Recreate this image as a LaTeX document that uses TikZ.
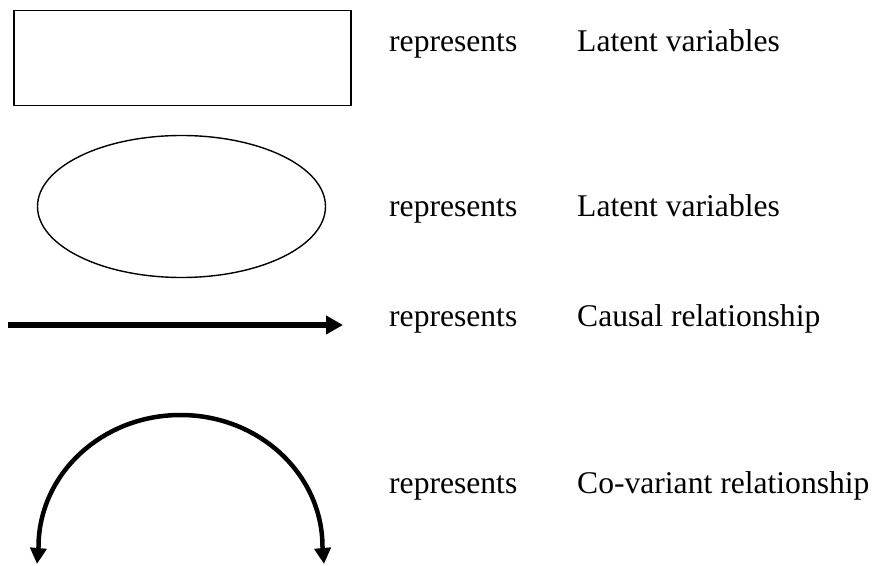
\documentclass[tikz,border=0pt]{standalone}
\usepackage{fontspec}
\setmainfont{Liberation Serif}
\usetikzlibrary{shapes.geometric,arrows.meta}
\begin{document}
\begin{tikzpicture}[x=1pt,y=1pt,
  legtext/.style={anchor=base west,inner sep=0pt,font=\fontsize{31.6}{38}\selectfont},
  shapebox/.style={draw,line width=1.4pt,inner sep=0pt},
  causal/.style={line width=6pt,-{Triangle[length=17pt,width=18pt]}},
  covar/.style={line width=4.5pt,{Triangle[length=16pt,width=16pt]}-{Triangle[length=16pt,width=16pt]}}]
\useasboundingbox (0,0) rectangle (877,565);
% shapes
\node[shapebox,rectangle,minimum width=337pt,minimum height=95pt] (rect) at (182.5,507) {};
\node[shapebox,ellipse,minimum width=288pt,minimum height=142pt] (ell) at (181.5,358.5) {};
% causal arrow
\coordinate (ca) at (8,240);
\coordinate (cb) at (343,240);
\draw[causal] (ca) -- (cb);
% covariant arc
\coordinate (la) at (37,1);
\coordinate (lb) at (38.5,18);
\coordinate (rb) at (322.5,18);
\coordinate (ra) at (324,1);
\draw[covar] (la) -- (lb) arc[start angle=180,end angle=0,x radius=142,y radius=132] -- (ra);
% texts
\node[legtext] (r1) at (389,513) {represents};
\node[legtext] (t1) at (577,513) {Latent variables};
\node[legtext] (r2) at (389,348) {represents};
\node[legtext] (t2) at (577,348) {Latent variables};
\node[legtext] (r3) at (389,238) {represents};
\node[legtext] (t3) at (577,238) {Causal relationship};
\node[legtext] (r4) at (389,72) {represents};
\node[legtext] (t4) at (577,72) {Co-variant relationship};
\end{tikzpicture}
\end{document}
